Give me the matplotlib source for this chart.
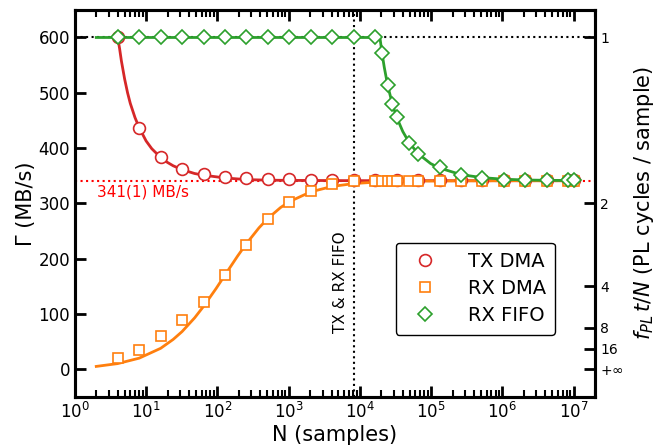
import matplotlib.pyplot as plt

# measured points (N samples, throughput MB/s)
N_tx = [4, 8, 16, 32, 64, 128, 256, 512, 1024, 2048, 4096, 8192, 16384, 32768,
        65536, 131072, 262144, 524288, 1048576, 2097152, 4194304, 8388608, 10000000]
G_tx = [600, 437, 384, 362, 353, 347, 345, 344, 344, 343, 343, 342, 342, 342,
        342, 342, 342, 342, 342, 342, 342, 342, 342]

N_rx = [4, 8, 16, 32, 64, 128, 256, 512, 1024, 2048, 4096, 8192, 16384, 20480,
        24576, 28672, 32768, 49152, 65536, 131072, 262144, 524288, 1048576,
        2097152, 4194304, 8388608, 10000000]
G_rx = [20, 35, 60, 90, 121, 170, 224, 272, 302, 323, 335, 340, 340, 340,
        340, 340, 340, 340, 340, 340, 340, 340, 340, 340, 340, 340, 340]

N_fifo = [4, 8, 16, 32, 64, 128, 256, 512, 1024, 2048, 4096, 8192, 16384, 20480,
          24576, 28672, 32768, 49152, 65536, 131072, 262144, 524288, 1048576,
          2097152, 4194304, 8388608, 10000000]
G_fifo = [600, 600, 600, 600, 600, 600, 600, 600, 600, 600, 600, 600, 600, 572,
          514, 480, 457, 410, 390, 365, 352, 345, 342, 342, 342, 342, 342]

# fit curves
Nf_tx = [4, 4.25, 4.5, 5, 5.5, 6, 7, 8, 10, 12, 16, 20, 24, 32, 48, 64, 128, 256,
         512, 1024, 8192, 10000000]
Gf_tx = [600, 580, 558, 525, 500, 481, 455, 437, 413, 399, 383, 374, 368, 361,
         354, 351, 346, 343, 342, 341.6, 341.1, 341]

Nf_rx = [2, 4, 8, 16, 24, 32, 48, 64, 96, 128, 192, 256, 384, 512, 768, 1024,
         2048, 4096, 8192, 16384, 65536, 1000000, 10000000]
Gf_rx = [5.2, 10.3, 20.1, 37.9, 54, 68.2, 93, 113.7, 146, 170.5, 204.6, 227.3,
         255.8, 272.8, 292.3, 303.1, 320.9, 330.7, 335.8, 338.4, 340.3, 341, 341]

Nf_fifo = [2, 16384, 19100, 20480, 22000, 24576, 28672, 32768, 40000, 49152,
           65536, 98304, 131072, 262144, 524288, 1048576, 2097152, 4194304,
           10000000]
Gf_fifo = [600, 600, 600, 571, 546, 513, 479, 456, 430, 410, 390, 372, 364,
           352, 346.5, 343.7, 342.3, 341.7, 341.3]

gamma_max = 341
right_ticks = [600, 300, 150, 75, 37.5, 0]
right_labels = ['1', '2', '4', '8', '16', r'$+\infty$']

fig = plt.figure(figsize=(6.62, 4.47), dpi=100)
ax = fig.add_axes([0.113, 0.112, 0.786, 0.866])

ax.axhline(600, color='k', ls=':', lw=1.5, zorder=1)
ax.axhline(gamma_max, color='red', ls=':', lw=1.5, zorder=1)
ax.axvline(8192, color='k', ls=':', lw=1.5, zorder=1)

ax.plot(Nf_tx, Gf_tx, color='tab:red', lw=2, zorder=2)
ax.plot(Nf_rx, Gf_rx, color='tab:orange', lw=2, zorder=2)
ax.plot(Nf_fifo, Gf_fifo, color='tab:green', lw=2, zorder=2)

ax.plot(N_tx, G_tx, ls='none', marker='o', ms=8.5, mfc='white', mec='tab:red',
        mew=1.2, label='TX DMA', zorder=3)
ax.plot(N_rx, G_rx, ls='none', marker='s', ms=7, mfc='white', mec='tab:orange',
        mew=1.2, label='RX DMA', zorder=3)
ax.plot(N_fifo, G_fifo, ls='none', marker='D', ms=7, mfc='white', mec='tab:green',
        mew=1.2, label='RX FIFO', zorder=4)

ax.text(2.05, 321, '341(1) MB/s', color='red', fontsize=11, va='center')
ax.text(5300, 157, 'TX & RX FIFO', rotation=90, fontsize=11, ha='center', va='center')

ax.set_xscale('log')
ax.set_xlim(1, 2e7)
ax.set_ylim(-50, 650)
ax.set_yticks([0, 100, 200, 300, 400, 500, 600])
ax.set_xlabel('N (samples)', fontsize=15, labelpad=2)
ax.set_ylabel('Γ (MB/s)', fontsize=15, labelpad=2)

ax.tick_params(axis='both', which='major', direction='in', length=8, width=2,
               labelsize=12, top=True, right=False)
ax.tick_params(axis='x', which='minor', direction='in', length=5, width=1.5, top=True)
for s in ax.spines.values():
    s.set_linewidth(2.2)

ax2 = ax.twinx()
ax2.set_ylim(ax.get_ylim())
ax2.set_yticks(right_ticks)
ax2.set_yticklabels(right_labels)
ax2.tick_params(axis='y', direction='in', length=8, width=2, labelsize=10)
ax2.set_ylabel(r'$f_{PL}\,t/N$ (PL cycles / sample)', fontsize=15, labelpad=6)
for s in ax2.spines.values():
    s.set_linewidth(2.2)

leg = ax.legend(loc='center', bbox_to_anchor=(0.77, 0.28), fontsize=14,
                frameon=True, edgecolor='k', framealpha=1, handletextpad=1.2,
                borderpad=0.5, labelspacing=0.4)
leg.get_frame().set_linewidth(1)

fig.savefig('out.png', dpi=100)
